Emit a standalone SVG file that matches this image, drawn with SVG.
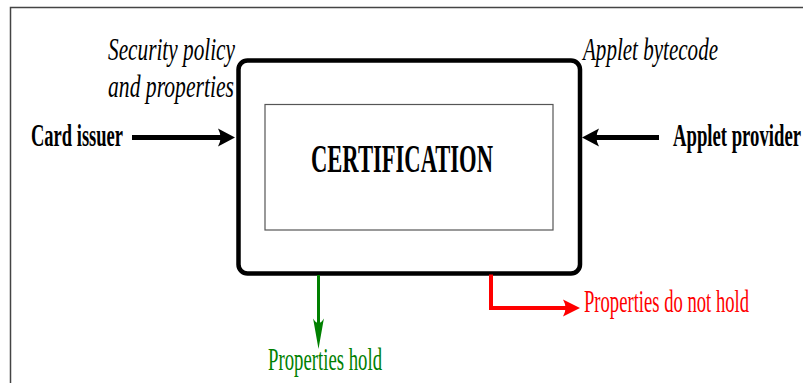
<svg xmlns="http://www.w3.org/2000/svg" width="803" height="383" viewBox="0 0 803 383">
  <style>
    text { font-family: "Liberation Serif", "Times New Roman", serif; }
    .lbl { font-size: 31px; }
    .bold { font-weight: bold; }
    .ital { font-style: italic; }
    .frame { fill: none; stroke: #444; stroke-width: 1.5; }
    .black-arrow { stroke: #000; stroke-width: 5; fill: none; }
  </style>
  <defs>
    <path id="head" d="M0,0 L-17,-9 Q-12,0 -17,9 Z"/>
  </defs>

  <!-- page frame -->
  <path class="frame" d="M10.5,383 V7.5 H803"/>

  <!-- certification block -->
  <g id="certification">
    <rect x="238.5" y="60.5" width="341.5" height="213" rx="9" ry="9" fill="#fff" stroke="#000" stroke-width="4.5"/>
    <rect x="265" y="104.5" width="288" height="125.5" fill="none" stroke="#555" stroke-width="1.2"/>
    <text x="311" y="172" class="bold" font-size="40" textLength="182" lengthAdjust="spacingAndGlyphs">CERTIFICATION</text>
  </g>

  <g id="card-issuer">
    <text x="31" y="146" class="lbl bold" textLength="92" lengthAdjust="spacingAndGlyphs">Card issuer</text>
  </g>

  <g id="security-policy">
    <text x="108" y="60" class="lbl ital" textLength="127" lengthAdjust="spacingAndGlyphs">Security policy</text>
    <text x="108" y="97" class="lbl ital" textLength="126" lengthAdjust="spacingAndGlyphs">and properties</text>
  </g>

  <g id="applet-bytecode">
    <text x="583" y="60" class="lbl ital" textLength="135" lengthAdjust="spacingAndGlyphs">Applet bytecode</text>
  </g>

  <g id="applet-provider">
    <text x="673" y="146" class="lbl bold" textLength="128" lengthAdjust="spacingAndGlyphs">Applet provider</text>
  </g>

  <g id="properties-hold">
    <text x="268" y="370" class="lbl" fill="#008000" textLength="114" lengthAdjust="spacingAndGlyphs">Properties hold</text>
  </g>

  <g id="properties-do-not-hold">
    <text x="584" y="312" class="lbl" fill="#ff0000" textLength="165" lengthAdjust="spacingAndGlyphs">Properties do not hold</text>
  </g>

  <g id="connectors">
    <!-- card issuer into certification -->
    <path class="black-arrow" d="M132,137.5 H222"/>
    <use href="#head" transform="translate(235,137.5)" fill="#000"/>
    <!-- applet provider into certification -->
    <path class="black-arrow" d="M659,137.5 H595"/>
    <use href="#head" transform="translate(582,137.5) rotate(180)" fill="#000"/>
    <!-- properties hold -->
    <path d="M318.5,275 V335" stroke="#008000" stroke-width="3" fill="none"/>
    <use href="#head" transform="translate(318.5,349) rotate(90) scale(1.8,0.6)" fill="#008000"/>
    <!-- properties do not hold -->
    <path d="M491,274.5 V308 H566" stroke="#ff0000" stroke-width="4" fill="none"/>
    <use href="#head" transform="translate(580,308) scale(1,0.95)" fill="#ff0000"/>
  </g>
</svg>
